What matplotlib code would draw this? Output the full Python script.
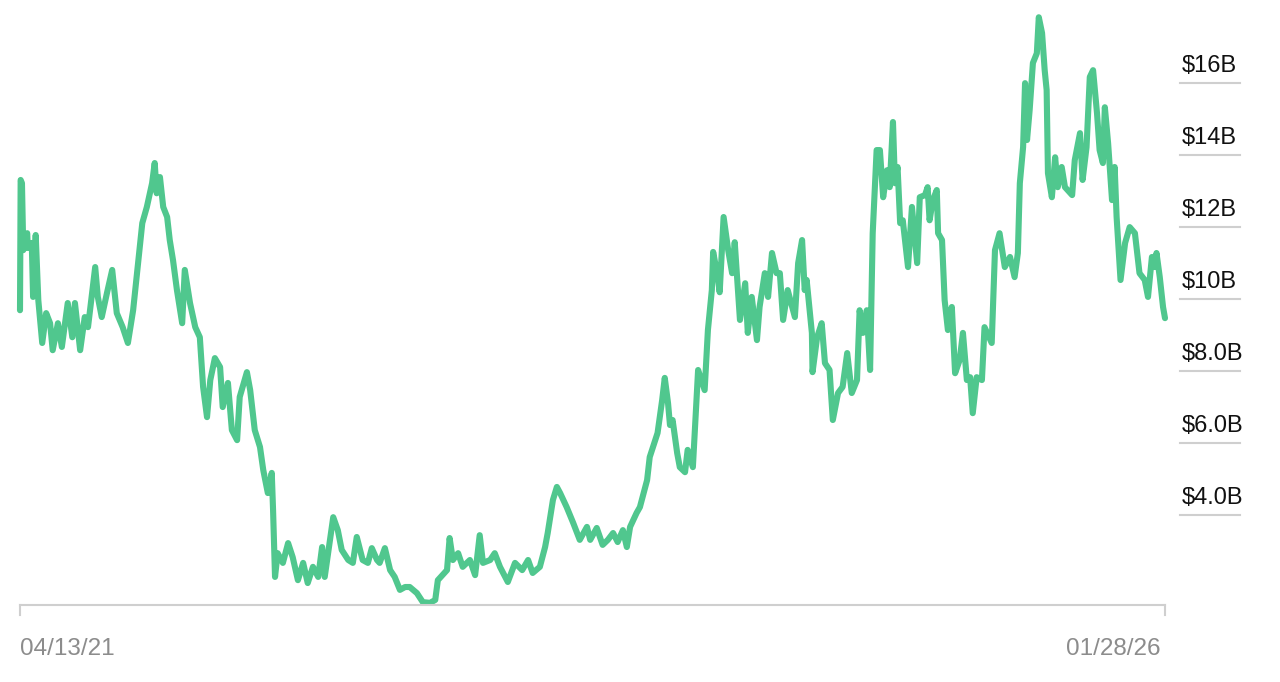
import numpy as np
import pandas as pd
import matplotlib
matplotlib.use("Agg")
import matplotlib.pyplot as plt
import matplotlib.transforms as mtransforms

# Data (days since 04/13/21, value in $B)
start_date = pd.Timestamp("2021-04-13")
end_date = pd.Timestamp("2026-01-28")

day_offsets = [
    0, 1, 3, 5, 11, 12, 18, 20, 24, 28, 34, 40, 46, 50, 58, 64, 73, 80, 84, 92,
    99, 104, 115, 119, 125, 133, 141, 148, 157, 165, 173, 180, 187, 194, 202, 206, 209, 214, 219, 225,
    229, 234, 240, 248, 252, 260, 268, 275, 280, 286, 291, 298, 306, 310, 318, 324, 332, 336, 347, 352,
    359, 367, 372, 379, 385, 387, 390, 394, 402, 410, 417, 425, 433, 440, 448, 456, 462, 466, 479, 486,
    492, 502, 509, 515, 524, 532, 538, 546, 550, 558, 566, 573, 581, 589, 596, 607, 616, 627, 635, 639,
    653, 657, 662, 670, 677, 688, 696, 703, 708, 719, 726, 734, 746, 757, 768, 777, 784, 795, 803, 807,
    815, 821, 826, 836, 846, 856, 867, 872, 882, 891, 899, 907, 914, 922, 928, 933, 943, 948, 959, 963,
    968, 975, 982, 986, 991, 994, 998, 1005, 1009, 1017, 1021, 1029, 1032, 1037, 1047, 1052, 1058, 1060, 1066, 1070,
    1076, 1083, 1089, 1093, 1101, 1109, 1113, 1119, 1127, 1131, 1139, 1144, 1150, 1157, 1162, 1167, 1174, 1185, 1190, 1196,
    1200, 1203, 1211, 1212, 1219, 1226, 1231, 1238, 1243, 1251, 1258, 1265, 1272, 1280, 1284, 1289, 1295, 1300, 1304, 1310,
    1315, 1320, 1326, 1330, 1335, 1338, 1342, 1346, 1350, 1358, 1364, 1372, 1376, 1384, 1388, 1391, 1396, 1402, 1404, 1410,
    1414, 1419, 1425, 1430, 1437, 1442, 1448, 1453, 1457, 1463, 1471, 1475, 1486, 1491, 1498, 1506, 1514, 1521, 1526, 1529,
    1534, 1537, 1540, 1544, 1549, 1555, 1558, 1563, 1567, 1570, 1572, 1578, 1583, 1587, 1593, 1598, 1609, 1613, 1621, 1625,
    1631, 1636, 1641, 1647, 1651, 1656, 1659, 1664, 1670, 1674, 1677, 1683, 1690, 1697, 1705, 1712, 1720, 1725, 1731, 1735,
    1738, 1743, 1748, 1751,
]

values_b = [
    9.69, 13.31, 13.22, 11.36, 11.83, 11.42, 11.56, 10.06, 11.78, 9.97, 8.78, 9.61, 9.33, 8.58, 9.33, 8.67, 9.89, 8.94, 9.89, 8.58,
    9.50, 9.22, 10.89, 10.06, 9.50, 10.17, 10.81, 9.61, 9.22, 8.78, 9.69, 10.89, 12.11, 12.56, 13.22, 13.78, 12.94, 13.39, 12.56, 12.28,
    11.64, 11.08, 10.25, 9.33, 10.81, 9.89, 9.22, 8.94, 7.56, 6.72, 7.75, 8.36, 8.11, 7.00, 7.67, 6.36, 6.08, 7.28, 7.97, 7.47,
    6.36, 5.89, 5.25, 4.61, 5.17, 4.14, 2.28, 2.94, 2.67, 3.22, 2.83, 2.19, 2.67, 2.11, 2.56, 2.28, 3.11, 2.28, 3.94, 3.58,
    3.03, 2.75, 2.67, 3.39, 2.75, 2.67, 3.08, 2.75, 2.67, 3.08, 2.47, 2.28, 1.92, 2.00, 2.00, 1.83, 1.58, 1.56, 1.64, 2.19,
    2.47, 3.36, 2.75, 2.94, 2.56, 2.75, 2.33, 3.44, 2.67, 2.75, 2.94, 2.56, 2.14, 2.67, 2.47, 2.75, 2.39, 2.56, 3.11, 3.50,
    4.42, 4.78, 4.61, 4.22, 3.78, 3.31, 3.67, 3.31, 3.64, 3.17, 3.31, 3.50, 3.25, 3.58, 3.11, 3.67, 4.06, 4.22, 4.97, 5.61,
    5.89, 6.28, 7.19, 7.81, 7.11, 6.50, 6.64, 5.72, 5.33, 5.19, 5.81, 5.33, 6.36, 8.03, 7.47, 9.14, 10.25, 11.31, 10.72, 10.19,
    12.28, 11.36, 10.72, 11.58, 9.42, 10.44, 9.06, 10.06, 8.86, 9.78, 10.72, 10.06, 11.28, 10.72, 10.72, 9.42, 10.25, 9.50, 11.00, 11.64,
    10.25, 10.53, 9.06, 7.97, 8.94, 9.33, 8.22, 8.03, 6.64, 7.39, 7.56, 8.50, 7.39, 7.75, 9.69, 9.06, 9.69, 8.03, 11.83, 14.14,
    14.14, 12.83, 13.58, 13.11, 14.92, 13.22, 13.67, 12.11, 12.19, 10.89, 12.56, 11.00, 12.83, 12.89, 13.11, 12.19, 12.75, 13.03, 11.83, 11.64,
    9.97, 9.14, 9.78, 7.94, 8.31, 9.06, 7.75, 7.83, 6.83, 7.83, 7.75, 9.22, 8.78, 11.36, 11.83, 10.89, 11.17, 10.61, 11.28, 13.22,
    14.22, 16.00, 14.42, 15.25, 16.56, 16.83, 17.83, 17.39, 16.36, 15.81, 13.50, 12.83, 13.94, 13.11, 13.67, 13.11, 12.89, 13.86, 14.61, 13.31,
    14.22, 16.17, 16.36, 15.17, 14.14, 13.78, 15.33, 14.33, 12.75, 13.67, 12.28, 10.53, 11.56, 12.00, 11.83, 10.72, 10.53, 10.06, 11.17, 10.89,
    11.28, 10.61, 9.78, 9.47,
]

y_ticks = [4, 6, 8, 10, 12, 14, 16]
y_labels = ["$4.0B", "$6.0B", "$8.0B", "$10B", "$12B", "$14B", "$16B"]
x_labels = ["04/13/21", "01/28/26"]

dates = start_date + pd.to_timedelta(day_offsets, unit="D")

line_color = "#50c78e"
grid_color = "#cfcfcf"
font = ["Liberation Sans", "DejaVu Sans"]

fig = plt.figure(figsize=(12.8, 6.82), dpi=100)
ax = fig.add_axes([20 / 1280, 77 / 682, 1145 / 1280, 605 / 682])

ax.plot(dates, values_b, color=line_color, linewidth=4.4,
        solid_joinstyle="round", solid_capstyle="round", clip_on=False)

ax.set_xlim(start_date, end_date)
ax.set_ylim(1.5, 18.31)

for side in ["top", "right", "left"]:
    ax.spines[side].set_visible(False)
ax.spines["bottom"].set_color(grid_color)
ax.spines["bottom"].set_linewidth(1.5)
ax.set_yticks([])
ax.set_xticks([])

# end ticks on the x axis
tick_tr = ax.get_xaxis_transform()
for d in [start_date, end_date]:
    ax.plot([d, d], [0, -0.016], transform=tick_tr, color=grid_color,
            linewidth=1.5, clip_on=False)

# x labels under the axis
ax.text(0, -0.055, x_labels[0], transform=ax.transAxes, ha="left", va="top",
        fontsize=17.5, color="#8c8c8c", family=font)
ax.text(0.9965, -0.055, x_labels[1], transform=ax.transAxes, ha="right", va="top",
        fontsize=17.5, color="#8c8c8c", family=font)

# right-side value labels with short rules under them
ytr = ax.get_yaxis_transform()
label_tr = mtransforms.offset_copy(ytr, fig=fig, x=0, y=11, units="dots")
for v, lab in zip(y_ticks, y_labels):
    ax.plot([1.0131, 1.0655], [v, v], transform=ytr, color=grid_color,
            linewidth=1.5, clip_on=False)
    ax.text(1.0148, v, lab, transform=label_tr, ha="left", va="baseline",
            fontsize=17, color="#111111", family=font)

fig.savefig("out.png", dpi=100, facecolor="white")
